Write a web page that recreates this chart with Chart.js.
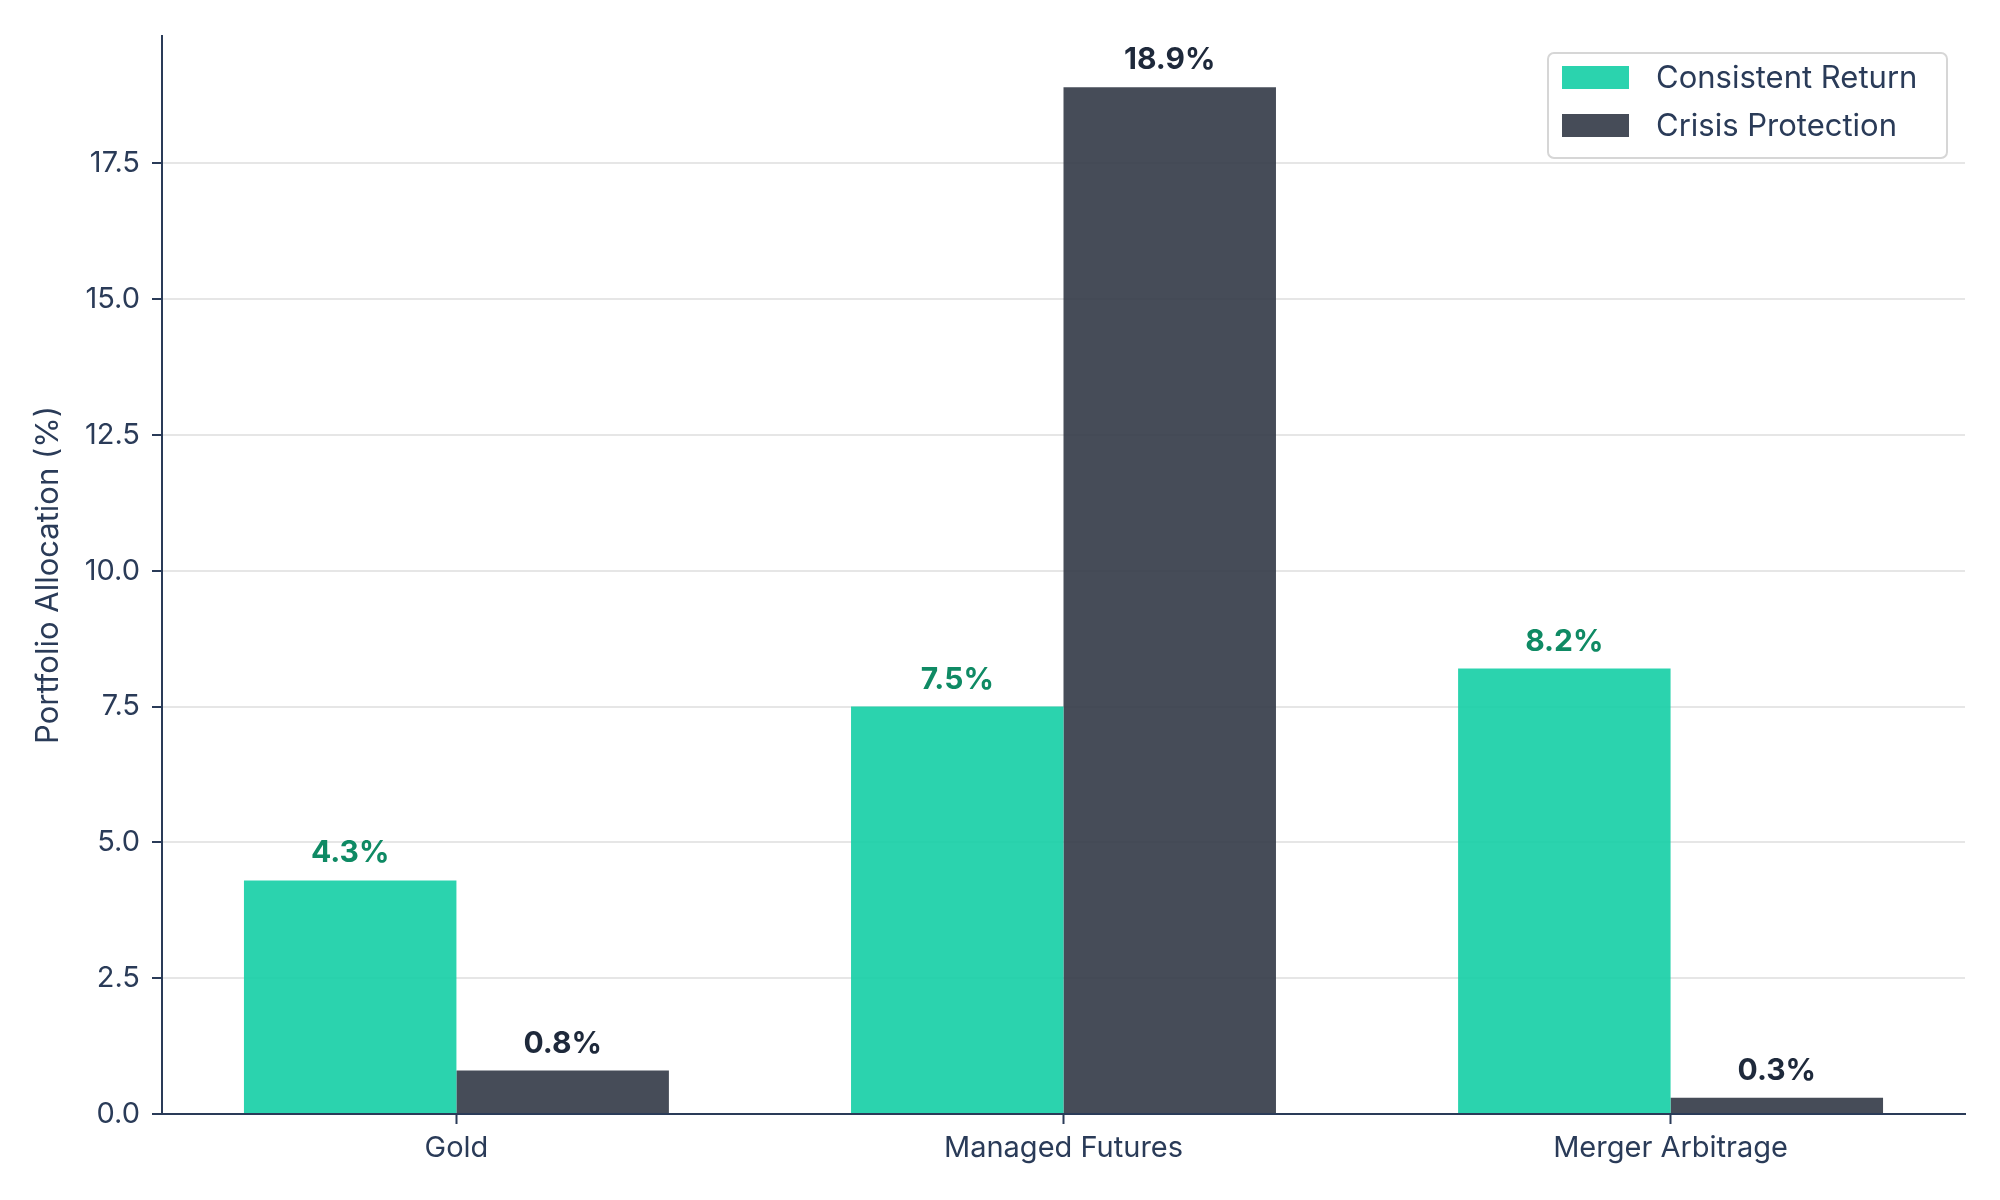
<!DOCTYPE html>
<html>
<head>
<meta charset="utf-8">
<script src="https://cdn.jsdelivr.net/npm/chart.js@4.4.1/dist/chart.umd.min.js"></script>
<style>
html, body { margin: 0; padding: 0; background: #fff; }
#wrap { width: 2000px; height: 1200px; position: relative; }
</style>
</head>
<body>
<div id="wrap"><canvas id="myChart"></canvas></div>
<script>
const categories = ['Gold', 'Managed Futures', 'Merger Arbitrage']
const consistentReturn = [4.3, 7.5, 8.2]
const crisisProtection = [0.8, 18.9, 0.3]
const seriesNames = ['Consistent Return', 'Crisis Protection']
const yTicks = [0, 2.5, 5, 7.5, 10, 12.5, 15, 17.5]

const FONT = 'Inter'
const NAVY = '#2a3b58'
const barColors = ['rgba(20, 206, 165, 0.9)', 'rgba(50, 57, 70, 0.9)']
const labelColors = ['#0f8a64', '#1e293b']

// matplotlib-like limits: bars of 0.35 on each side plus a 5% margin
const xMin = -0.485
const xMax = categories.length - 1 + 0.485
const yMax = Math.max(...consistentReturn, ...crisisProtection) * 1.05

const toPoints = arr => arr.map((v, i) => ({ x: i, y: v }))

const valueLabels = {
    id: 'valueLabels',
    afterDatasetsDraw(chart) {
        const ctx = chart.ctx
        ctx.save()
        ctx.font = `bold 30px ${FONT}`
        ctx.textAlign = 'center'
        ctx.textBaseline = 'alphabetic'
        chart.data.datasets.forEach((ds, di) => {
            const meta = chart.getDatasetMeta(di)
            ctx.fillStyle = labelColors[di]
            meta.data.forEach((bar, i) => {
                ctx.fillText(ds.data[i].y.toFixed(1) + '%', bar.x, bar.y - 18)
            })
        })
        ctx.restore()
    }
}

const legendBox = {
    id: 'legendBox',
    afterDraw(chart) {
        const ctx = chart.ctx
        const area = chart.chartArea
        const w = 399, h = 105
        const x = area.right - 18 - w
        const y = area.top + 17
        ctx.save()
        ctx.fillStyle = 'rgba(255,255,255,0.85)'
        ctx.strokeStyle = '#d6d6d6'
        ctx.lineWidth = 2
        ctx.beginPath()
        ctx.roundRect(x, y, w, h, 6)
        ctx.fill()
        ctx.stroke()
        ctx.font = `31px ${FONT}`
        ctx.textBaseline = 'middle'
        ctx.textAlign = 'left'
        chart.data.datasets.forEach((ds, di) => {
            const rowY = y + 25 + di * 48
            ctx.fillStyle = ds.backgroundColor
            ctx.fillRect(x + 14, rowY - 12, 67, 23)
            ctx.fillStyle = NAVY
            ctx.fillText(ds.label, x + 108, rowY + 1)
        })
        ctx.restore()
    }
}

const ctx = document.getElementById('myChart')
new Chart(ctx, {
    type: 'bar',
    data: {
        datasets: [{
            label: seriesNames[0],
            data: toPoints(consistentReturn),
            backgroundColor: barColors[0],
            borderWidth: 0
        }, {
            label: seriesNames[1],
            data: toPoints(crisisProtection),
            backgroundColor: barColors[1],
            borderWidth: 0
        }]
    },
    options: {
        responsive: true,
        maintainAspectRatio: false,
        devicePixelRatio: 1,
        animation: false,
        layout: { padding: { top: 36, right: 35, left: 0, bottom: 0 } },
        datasets: { bar: { categoryPercentage: 0.7, barPercentage: 1.0 } },
        plugins: {
            legend: { display: false },
            tooltip: { enabled: false }
        },
        scales: {
            x: {
                type: 'linear',
                min: xMin,
                max: xMax,
                offset: false,
                afterBuildTicks(scale) {
                    scale.ticks = categories.map((c, i) => ({ value: i }))
                },
                afterFit(scale) { scale.height = 86 },
                ticks: {
                    callback: v => categories[v],
                    color: NAVY,
                    font: { family: FONT, size: 29 },
                    padding: 7,
                    maxRotation: 0,
                    autoSkip: false
                },
                grid: {
                    offset: false,
                    drawOnChartArea: false,
                    tickLength: 10,
                    tickColor: NAVY,
                    tickWidth: 2
                },
                border: { color: NAVY, width: 2 }
            },
            y: {
                min: 0,
                max: yMax,
                afterBuildTicks(scale) {
                    scale.ticks = yTicks.map(v => ({ value: v }))
                },
                afterFit(scale) { scale.width = 162 },
                ticks: {
                    callback: v => v.toFixed(1),
                    color: NAVY,
                    font: { family: FONT, size: 29 },
                    padding: 12
                },
                grid: {
                    color: '#e6e6e6',
                    lineWidth: 2,
                    tickLength: 10,
                    tickColor: NAVY,
                    tickWidth: 2
                },
                border: { color: NAVY, width: 2 },
                title: {
                    display: true,
                    text: 'Portfolio Allocation (%)',
                    color: NAVY,
                    font: { family: FONT, size: 31 },
                    padding: { top: 30, bottom: 0 }
                }
            }
        }
    },
    plugins: [valueLabels, legendBox]
})
</script>
</body>
</html>
